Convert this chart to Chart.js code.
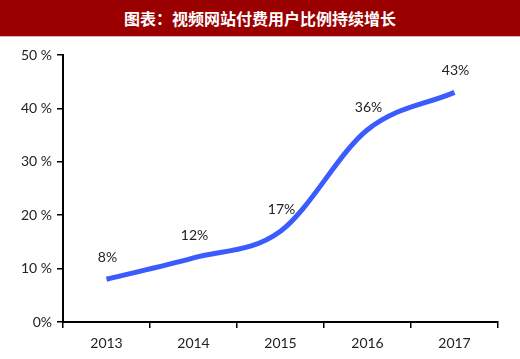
<!DOCTYPE html>
<html><head><meta charset="utf-8">
<script src="https://cdn.jsdelivr.net/npm/chart.js@4/dist/chart.umd.min.js"></script>
<style>
html,body{margin:0;padding:0;background:#fff;}
#title{width:520px;height:36px;background:#9a0000;color:#fff;font-family:"Noto Sans CJK SC",sans-serif;font-weight:bold;font-size:16px;line-height:36px;text-align:center;border-bottom:1px solid #d9b3b3;}
#wrap{width:520px;height:322px;position:relative;}
</style></head>
<body>
<div id="title">图表：视频网站付费用户比例持续增长</div>
<div id="wrap"><canvas id="c" width="520" height="322"></canvas></div>
<script>
const categories = ["2013","2014","2015","2016","2017"];
const values = [8, 12, 17, 36, 43];
const pointLabels = ["8%","12%","17%","36%","43%"];
const yTickLabels = {0:"0%",10:"10 %",20:"20 %",30:"30 %",40:"40 %",50:"50 %"};

const labelPlugin = {
  id:'pl',
  afterDatasetsDraw(chart){
    const ctx = chart.ctx;
    const meta = chart.getDatasetMeta(0);
    ctx.save();
    ctx.font = '14px Lato, sans-serif';
    ctx.fillStyle = '#222';
    ctx.textAlign = 'center';
    ctx.textBaseline = 'middle';
    meta.data.forEach((p,i)=>{ ctx.fillText(pointLabels[i], p.x+1, p.y-22); });
    ctx.restore();
  }
};

new Chart(document.getElementById('c'), {
  type:'line',
  data:{labels:categories, datasets:[{data:values, borderColor:'#3a5cff', borderWidth:5, pointRadius:0, cubicInterpolationMode:'monotone', fill:false}]},
  options:{
    responsive:false, animation:false,
    layout:{padding:{left:0,right:22,top:18,bottom:0}},
    plugins:{legend:{display:false}, tooltip:{enabled:false}},
    scales:{
      x:{offset:true,
        grid:{drawOnChartArea:false, drawTicks:true, tickLength:6, color:'#000', lineWidth:1.5, offset:true},
        border:{color:'#000', width:2},
        ticks:{color:'#222', font:{family:'Lato, sans-serif', size:14}, padding:7},
        afterFit(s){ s.height = 37; }
      },
      y:{min:0,max:50,
        grid:{drawOnChartArea:false, drawTicks:true, tickLength:6, color:'#000', lineWidth:1.5},
        border:{color:'#000', width:2},
        ticks:{stepSize:10, color:'#222', font:{family:'Lato, sans-serif', size:14}, padding:5,
          callback:(v)=>yTickLabels[v]},
        afterFit(s){ s.width = 63; }
      }
    }
  },
  plugins:[labelPlugin]
});
</script>
</body></html>
